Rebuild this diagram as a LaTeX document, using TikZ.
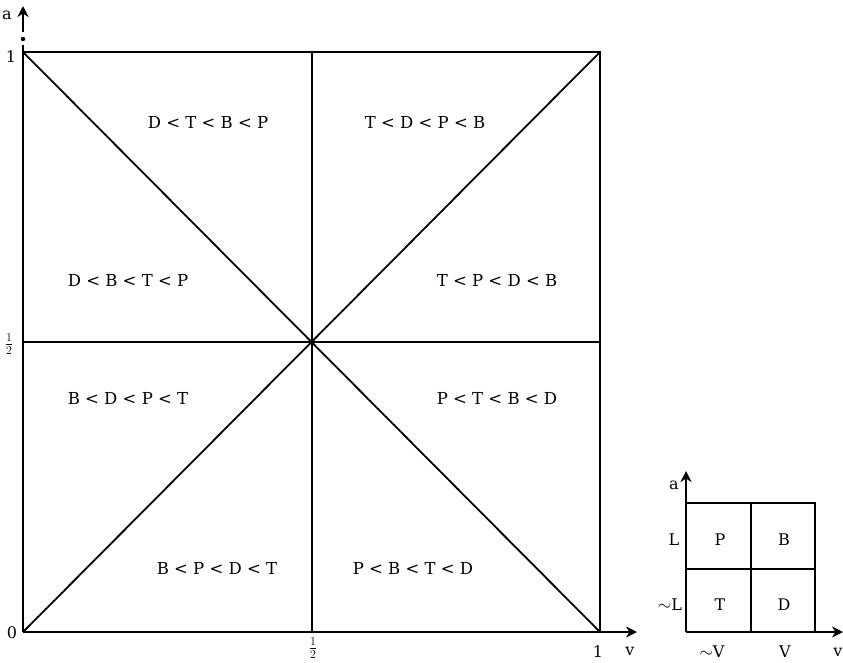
\documentclass[tikz,border=0pt]{standalone}
\usepackage{fontspec}
\setmainfont{DejaVu Serif}
\usetikzlibrary{arrows.meta}
\begin{document}
\begin{tikzpicture}[x=1pt,y=-1pt,line width=1.8pt,
  arr/.style={-{Stealth[length=11pt,width=11pt,inset=3.5pt]}},
  rel/.style={font=\fontsize{16.5}{16.5}\selectfont},
  tick/.style={font=\fontsize{16}{16}\selectfont},
  frac/.style={font=\fontsize{17}{17}\selectfont,inner sep=1pt},
  dotc/.style={fill,circle,inner sep=0pt,minimum size=4.5pt}]
\useasboundingbox (0,0) rectangle (843,662);
% main square
\coordinate (O) at (23,632);
\coordinate (TL) at (23,52);
\coordinate (TR) at (600,52);
\coordinate (BR) at (600,632);
\coordinate (C) at (312,342);
\coordinate (Tm) at (312,52);
\coordinate (Bm) at (312,632);
\coordinate (Lm) at (23,342);
\coordinate (Rm) at (600,342);
\coordinate (vtip) at (637,632);
\coordinate (abrk) at (23,45);
\coordinate (abot) at (23,32);
\coordinate (atip) at (23,6);
\draw (O) -- (abrk);
\node[dotc] (brkdot) at (23,39) {};
\draw[arr] (abot) -- (atip);
\draw[arr] (O) -- (vtip);
\draw (TL) -- (TR) -- (BR);
\draw (Tm) -- (Bm);
\draw (Lm) -- (Rm);
\draw (O) -- (TR);
\draw (TL) -- (BR);
\node[dotc,minimum size=5.5pt] (cdot) at (C) {};
% axis labels
\node[tick] (la) at (7,15) {a};
\node[tick] (l1a) at (11,57) {1};
\node[frac] (lha) at (9,344) {$\frac12$};
\node[tick] (l0) at (12,633) {0};
\node[frac] (lhv) at (313,648) {$\frac12$};
\node[tick] (l1v) at (598,652) {1};
\node[tick] (lv) at (630,651) {v};
% region labels
\node[rel] (r1) at (208,122) {D < T < B < P};
\node[rel] (r2) at (425,122) {T < D < P < B};
\node[rel] (r3) at (128,280) {D < B < T < P};
\node[rel] (r4) at (497,280) {T < P < D < B};
\node[rel] (r5) at (128,398) {B < D < P < T};
\node[rel] (r6) at (497,398) {P < T < B < D};
\node[rel] (r7) at (217,568) {B < P < D < T};
\node[rel] (r8) at (413,568) {P < B < T < D};
% small diagram
\coordinate (so) at (686,632);
\coordinate (sat) at (686,471);
\coordinate (svt) at (843,632);
\coordinate (stl) at (686,503);
\coordinate (str) at (815,503);
\coordinate (sbr) at (815,632);
\coordinate (smt) at (751,503);
\coordinate (smb) at (751,632);
\coordinate (sml) at (686,569);
\coordinate (smr) at (815,569);
\draw[arr] (so) -- (sat);
\draw[arr] (so) -- (svt);
\draw (stl) -- (str) -- (sbr);
\draw (smt) -- (smb);
\draw (sml) -- (smr);
\node[tick] (sa) at (674,485) {a};
\node[tick] (sL) at (674,540) {L};
\node[tick] (snL) at (670,605) {$\sim$L};
\node[tick] (snV) at (712,652) {$\sim$V};
\node[tick] (sV) at (785,652) {V};
\node[tick] (sv) at (838,652) {v};
\node[tick] (sP) at (720,540) {P};
\node[tick] (sB) at (784,540) {B};
\node[tick] (sT) at (720,605) {T};
\node[tick] (sD) at (784,605) {D};
\end{tikzpicture}
\end{document}
